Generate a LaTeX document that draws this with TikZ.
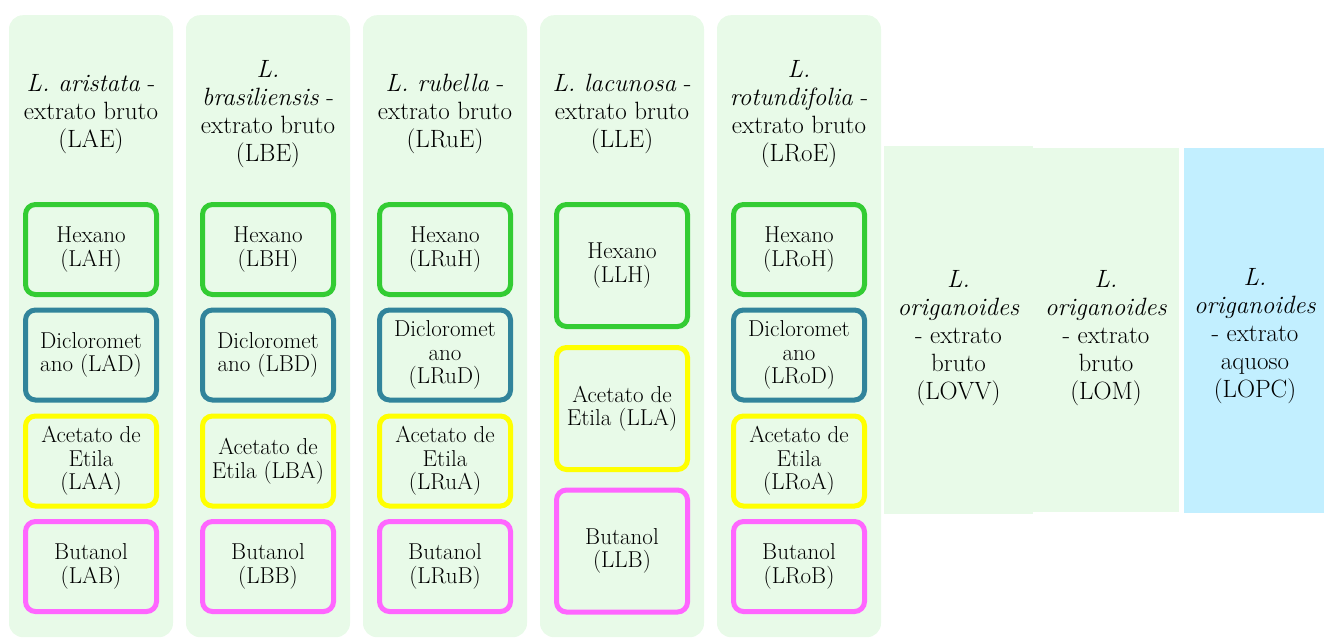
\documentclass[tikz,border=0pt]{standalone}
\usepackage{fontspec}
\definecolor{colfill}{HTML}{E8FAE8}
\definecolor{bluefill}{HTML}{C2EFFF}
\definecolor{hexc}{HTML}{33CC33}
\definecolor{dicc}{HTML}{31849B}
\definecolor{acec}{HTML}{FFFF00}
\definecolor{butc}{HTML}{FF66FF}
\begin{document}
\begin{tikzpicture}[x=1pt,y=-1pt,
  colbox/.style={fill=colfill, draw=none, rounded corners=14pt, minimum width=164pt, minimum height=622pt, anchor=north, inner sep=0pt},
  sidebox/.style={fill=colfill, draw=none, inner sep=0pt},
  hdr/.style={align=center, font=\fontsize{25}{28}\selectfont, inner sep=0pt},
  frac/.style={line width=5pt, rounded corners=10pt, fill=colfill, minimum width=131pt, minimum height=90pt, align=center, font=\fontsize{23}{23.5}\selectfont, inner sep=0pt},
  tall/.style={minimum height=122pt},
  hex/.style={frac, draw=hexc},
  dic/.style={frac, draw=dicc},
  ace/.style={frac, draw=acec},
  but/.style={frac, draw=butc}]
\useasboundingbox (0,0) rectangle (1324,637);
\clip (0,0) rectangle (1324,637);
% columns
\node[colbox] (c1) at (91,15) {};
\node[colbox] (c2) at (268,15) {};
\node[colbox] (c3) at (445,15) {};
\node[colbox] (c4) at (622,15) {};
\node[colbox] (c5) at (799,15) {};
% headers
\node[hdr] (h1) at (91,114) {\textit{L. aristata} -\\extrato bruto\\(LAE)};
\node[hdr] (h2) at (268,114) {\textit{L.}\\\textit{brasiliensis} -\\extrato bruto\\(LBE)};
\node[hdr] (h3) at (445,114) {\textit{L. rubella} -\\extrato bruto\\(LRuE)};
\node[hdr] (h4) at (622,114) {\textit{L. lacunosa} -\\extrato bruto\\(LLE)};
\node[hdr] (h5) at (799,114) {\textit{L.}\\\textit{rotundifolia} -\\extrato bruto\\(LRoE)};
% column 1
\node[hex] (lah) at (91,249.5) {Hexano\\(LAH)};
\node[dic] (lad) at (91,355) {Dicloromet\\ano (LAD)};
\node[ace] (laa) at (91,461) {Acetato de\\Etila\\(LAA)};
\node[but] (lab) at (91,566.5) {Butanol\\(LAB)};
% column 2
\node[hex] (lbh) at (268,249.5) {Hexano\\(LBH)};
\node[dic] (lbd) at (268,355) {Dicloromet\\ano (LBD)};
\node[ace] (lba) at (268,461) {Acetato de\\Etila (LBA)};
\node[but] (lbb) at (268,566.5) {Butanol\\(LBB)};
% column 3
\node[hex] (lruh) at (445,249.5) {Hexano\\(LRuH)};
\node[dic] (lrud) at (445,355) {Dicloromet\\ano\\(LRuD)};
\node[ace] (lrua) at (445,461) {Acetato de\\Etila\\(LRuA)};
\node[but] (lrub) at (445,566.5) {Butanol\\(LRuB)};
% column 4
\node[hex,tall] (llh) at (622,265.5) {Hexano\\(LLH)};
\node[ace,tall] (lla) at (622,408.5) {Acetato de\\Etila (LLA)};
\node[but,tall] (llb) at (622,551) {Butanol\\(LLB)};
% column 5
\node[hex] (lroh) at (799,249.5) {Hexano\\(LRoH)};
\node[dic] (lrod) at (799,355) {Dicloromet\\ano\\(LRoD)};
\node[ace] (lroa) at (799,461) {Acetato de\\Etila\\(LRoA)};
\node[but] (lrob) at (799,566.5) {Butanol\\(LRoB)};
% side columns
\node[sidebox, minimum width=146pt, minimum height=364pt] (lomb) at (1106,330) {};
\node[sidebox, minimum width=149pt, minimum height=368pt] (lovvb) at (958.5,330) {};
\node[sidebox, fill=bluefill, minimum width=140pt, minimum height=365pt] (lopcb) at (1254,330.5) {};
\node[hdr] (lovv) at (958.5,338) {\textit{L.}\\\textit{origanoides}\\- extrato\\bruto\\(LOVV)};
\node[hdr] (lom) at (1106,338) {\textit{L.}\\\textit{origanoides}\\- extrato\\bruto\\(LOM)};
\node[hdr] (lopc) at (1255,336) {\textit{L.}\\\textit{origanoides}\\- extrato\\aquoso\\(LOPC)};
\end{tikzpicture}
\end{document}
